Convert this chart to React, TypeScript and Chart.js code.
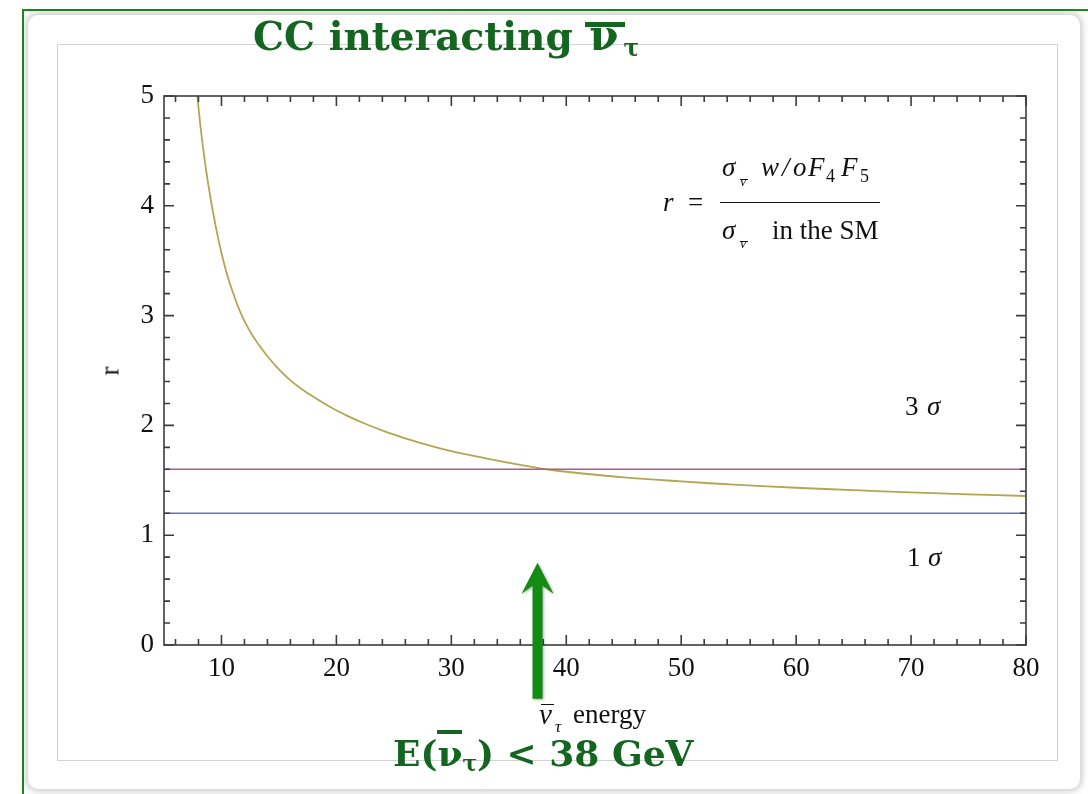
import React, { useEffect, useRef } from "react";
import { Chart, registerables } from "chart.js";

Chart.register(...registerables);

// ---- data ----
const energy = [7.9, 8.2, 8.5, 8.8, 9.2, 9.6, 10, 10.5, 11, 11.6, 12.3, 13, 14, 15, 16, 17, 18, 19.5, 21, 22.5, 24.5, 27, 30, 33, 36, 38, 40, 45, 50, 55, 60, 65, 70, 75, 80];
const ratio = [5.0, 4.7, 4.45, 4.23, 3.98, 3.76, 3.57, 3.37, 3.21, 3.04, 2.89, 2.77, 2.63, 2.51, 2.41, 2.33, 2.26, 2.165, 2.085, 2.015, 1.935, 1.85, 1.765, 1.70, 1.64, 1.605, 1.578, 1.527, 1.49, 1.458, 1.432, 1.41, 1.39, 1.372, 1.357];
const sigmaLineEnergy = [5, 80];
const oneSigma = [1.2, 1.2];
const threeSigma = [1.6, 1.6];
const xTickLabels = [10, 20, 30, 40, 50, 60, 70, 80];
const yTickLabels = [0, 1, 2, 3, 4, 5];
const xMinorTicks = [6, 8, 12, 14, 16, 18, 22, 24, 26, 28, 32, 34, 36, 38, 42, 44, 46, 48, 52, 54, 56, 58, 62, 64, 66, 68, 72, 74, 76, 78];
const yMinorTicks = [0.2, 0.4, 0.6, 0.8, 1.2, 1.4, 1.6, 1.8, 2.2, 2.4, 2.6, 2.8, 3.2, 3.4, 3.6, 3.8, 4.2, 4.4, 4.6, 4.8];
const arrowEnergy = 37.5;
const arrowTipR = 0.75;
const arrowTailR = -0.49;

const SERIF = '"Liberation Serif", "Times New Roman", serif';
const DEJA = '"DejaVu Serif", serif';
const GREEN = "#13651f";

const framePlugin = {
  id: "mmaFrame",
  afterDatasetsDraw(chart: any) {
    const { ctx, chartArea: a, scales } = chart;
    const xs = scales.x;
    const ys = scales.y;
    ctx.save();
    ctx.strokeStyle = "#3c3c3c";
    ctx.lineWidth = 1.6;
    ctx.strokeRect(a.left, a.top, a.right - a.left, a.bottom - a.top);
    const tickX = (vals: number[], len: number) => {
      ctx.beginPath();
      vals.forEach((v) => {
        const px = xs.getPixelForValue(v);
        ctx.moveTo(px, a.bottom);
        ctx.lineTo(px, a.bottom - len);
        ctx.moveTo(px, a.top);
        ctx.lineTo(px, a.top + len);
      });
      ctx.stroke();
    };
    const tickY = (vals: number[], len: number) => {
      ctx.beginPath();
      vals.forEach((v) => {
        const py = ys.getPixelForValue(v);
        ctx.moveTo(a.left, py);
        ctx.lineTo(a.left + len, py);
        ctx.moveTo(a.right, py);
        ctx.lineTo(a.right - len, py);
      });
      ctx.stroke();
    };
    tickX(xTickLabels, 10);
    tickX(xMinorTicks, 6);
    tickY(yTickLabels, 10);
    tickY(yMinorTicks, 6);
    ctx.restore();
  },
  afterDraw(chart: any) {
    const { ctx, scales } = chart;
    const cx = scales.x.getPixelForValue(arrowEnergy);
    const tip = scales.y.getPixelForValue(arrowTipR);
    const tail = scales.y.getPixelForValue(arrowTailR);
    ctx.save();
    ctx.fillStyle = "#148c14";
    ctx.shadowColor = "rgba(0,0,0,0.35)";
    ctx.shadowBlur = 3;
    ctx.shadowOffsetX = 1;
    ctx.shadowOffsetY = 1;
    ctx.beginPath();
    ctx.moveTo(cx, tip);
    ctx.lineTo(cx + 16, tip + 31);
    ctx.lineTo(cx + 5, tip + 23);
    ctx.lineTo(cx + 5, tail);
    ctx.lineTo(cx - 5, tail);
    ctx.lineTo(cx - 5, tip + 23);
    ctx.lineTo(cx - 16, tip + 31);
    ctx.closePath();
    ctx.fill();
    ctx.restore();
  },
};

function Txt(props: any) {
  const { x, base, size, family = SERIF, weight = "normal", italic = false, color = "#111", style = {}, children } = props;
  const ratioTop = family === DEJA ? 0.846 : 0.8375;
  return (
    <div
      style={{
        position: "absolute",
        left: x,
        top: base - ratioTop * size,
        fontFamily: family,
        fontSize: size,
        fontWeight: weight,
        fontStyle: italic ? "italic" : "normal",
        lineHeight: 1,
        color,
        whiteSpace: "nowrap",
        ...style,
      }}
    >
      {children}
    </div>
  );
}

function Rule(props: any) {
  const { x, y, w, h = 1.2, color = "#111" } = props;
  return <div style={{ position: "absolute", left: x, top: y, width: w, height: h, background: color }} />;
}

function Sub(props: any) {
  const { size = "0.62em", drop = "0.3em", style = {}, children } = props;
  return <span style={{ position: "relative", top: drop, fontSize: size, lineHeight: 0, ...style }}>{children}</span>;
}

function Bar(props: any) {
  const { top, h, l = "0em", r = "0em", style = {}, children } = props;
  return (
    <span style={{ position: "relative", display: "inline-block", ...style }}>
      {children}
      <span style={{ position: "absolute", left: l, right: r, top, height: h, background: "currentColor" }} />
    </span>
  );
}

export default function App() {
  const ref = useRef<HTMLCanvasElement | null>(null);

  useEffect(() => {
    if (!ref.current) return;
    const curve = energy.map((e, i) => ({ x: e, y: ratio[i] }));
    const s1 = sigmaLineEnergy.map((e, i) => ({ x: e, y: oneSigma[i] }));
    const s3 = sigmaLineEnergy.map((e, i) => ({ x: e, y: threeSigma[i] }));
    const tickFont = { family: SERIF, size: 27 };
    const chart = new Chart(ref.current, {
      type: "line",
      data: {
        datasets: [
          { data: s3, borderColor: "#ad5a8c", borderWidth: 1.5, pointRadius: 0, tension: 0 },
          { data: s1, borderColor: "#6a6cc6", borderWidth: 1.5, pointRadius: 0, tension: 0 },
          { data: curve, borderColor: "#b3a653", borderWidth: 1.8, pointRadius: 0, tension: 0.4 },
        ],
      } as any,
      options: {
        animation: false,
        responsive: false,
        events: [],
        layout: { padding: { left: 0, right: 32, top: 52, bottom: 0 } },
        plugins: { legend: { display: false }, tooltip: { enabled: false }, title: { display: false } },
        scales: {
          x: {
            type: "linear",
            min: 5,
            max: 80,
            grid: { display: false, drawTicks: false },
            border: { display: false },
            ticks: { color: "#111", font: tickFont, padding: 8, maxRotation: 0, autoSkip: false },
            afterBuildTicks: (s: any) => {
              s.ticks = xTickLabels.map((v) => ({ value: v }));
            },
            afterFit: (s: any) => {
              s.height = 116;
            },
          },
          y: {
            type: "linear",
            min: 0,
            max: 5,
            grid: { display: false, drawTicks: false },
            border: { display: false },
            ticks: { color: "#111", font: tickFont, padding: 10, autoSkip: false },
            afterBuildTicks: (s: any) => {
              s.ticks = yTickLabels.map((v) => ({ value: v }));
            },
            afterFit: (s: any) => {
              s.width = 107;
            },
          },
        },
      } as any,
      plugins: [framePlugin],
    });
    return () => chart.destroy();
  }, []);

  return (
    <div style={{ position: "absolute", left: 0, top: 0, width: 1088, height: 794, overflow: "hidden", background: "#fff" }}>
      <div
        style={{
          position: "absolute",
          left: 22,
          top: 9,
          width: 1120,
          height: 840,
          borderTop: "2px solid #1b8b1b",
          borderLeft: "2px solid #1b8b1b",
        }}
      />
      <div
        style={{
          position: "absolute",
          left: 28,
          top: 15,
          width: 1052,
          height: 774,
          borderRadius: 10,
          background: "#fff",
          boxShadow: "0 0 7px 2px rgba(0,0,0,0.22)",
        }}
      />
      <div
        style={{
          position: "absolute",
          left: 57,
          top: 44,
          width: 1001,
          height: 717,
          border: "1.5px solid #d3d3d3",
          boxSizing: "border-box",
        }}
      />
      <canvas ref={ref} width={1001} height={717} style={{ position: "absolute", left: 57, top: 44, width: 1001, height: 717 }} />

      {/* slide title */}
      <Txt x={253} base={47} size={39} family={DEJA} weight="bold" color={GREEN}>
        CC interacting{" "}
        <Bar top="0.2em" h="5px" l="-0.1em" r="-0.15em" style={{ fontSize: "1.08em", marginLeft: 3 }}>ν</Bar>
        <Sub size="0.6em" drop="0.25em" style={{ marginLeft: 5 }}>τ</Sub>
      </Txt>

      {/* y-axis title */}
      <div
        style={{
          position: "absolute",
          left: 110,
          top: 371,
          transform: "translate(-50%, -50%) rotate(-90deg)",
          fontFamily: SERIF,
          fontSize: 27,
          lineHeight: 1,
          color: "#111",
        }}
      >
        r
      </div>

      {/* x-axis title */}
      <Txt x={539} base={724} size={29} italic>ν</Txt>
      <Rule x={541} y={703.5} w={13} h={1.3} />
      <Txt x={555} base={732} size={17} italic>τ</Txt>
      <Txt x={573} base={724} size={27}>energy</Txt>

      {/* formula */}
      <Txt x={663} base={212} size={27} italic>r</Txt>
      <Txt x={688} base={212} size={27}>=</Txt>
      <Rule x={720} y={201.5} w={160} h={1.5} />
      <Txt x={722} base={177} size={27} italic>σ</Txt>
      <Txt x={740} base={187} size={14} italic>ν</Txt>
      <Rule x={740} y={178.5} w={8} h={1} />
      <Txt x={761} base={177} size={27} italic>w</Txt>
      <Txt x={782} base={177} size={27} italic>/</Txt>
      <Txt x={793} base={177} size={27} italic>o</Txt>
      <Txt x={808} base={177} size={27} italic>F</Txt>
      <Txt x={826} base={182} size={18}>4</Txt>
      <Txt x={841} base={177} size={27} italic>F</Txt>
      <Txt x={860} base={182} size={18}>5</Txt>
      <Txt x={722} base={240} size={27} italic>σ</Txt>
      <Txt x={740} base={249} size={14} italic>ν</Txt>
      <Rule x={740} y={240.5} w={8} h={1} />
      <Txt x={772} base={240} size={27}>in the SM</Txt>

      {/* sigma labels */}
      <Txt x={905} base={416} size={27}>3</Txt>
      <Txt x={927} base={416} size={27} italic>σ</Txt>
      <Txt x={907} base={567} size={27}>1</Txt>
      <Txt x={928} base={567} size={27} italic>σ</Txt>

      {/* conclusion */}
      <Txt x={393} base={765} size={36} family={DEJA} weight="bold" color={GREEN}>
        E(
        <Bar top="-0.12em" h="4px" l="0em" r="0em">ν</Bar>
        <Sub size="0.6em" drop="0.25em">τ</Sub>) &lt; 38 GeV
      </Txt>
    </div>
  );
}
